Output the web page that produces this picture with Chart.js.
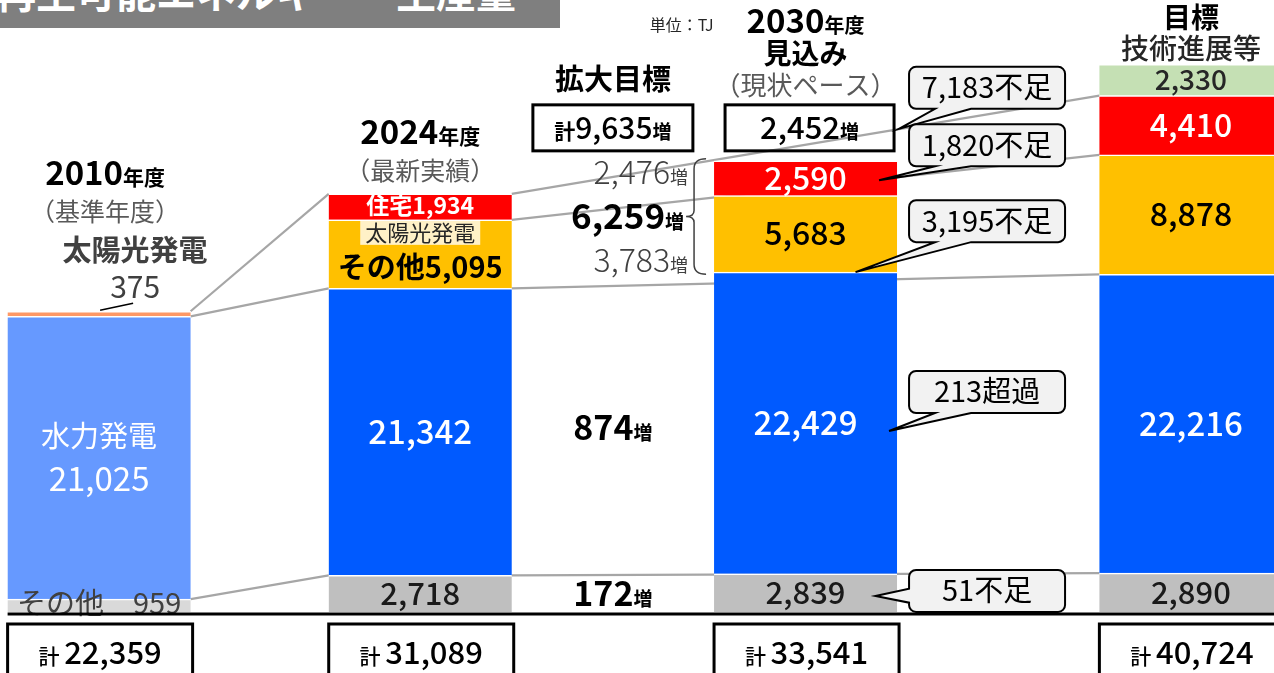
<!DOCTYPE html>
<html>
<head>
<meta charset="utf-8">
<script src="https://cdn.jsdelivr.net/npm/chart.js@4.4.1/dist/chart.umd.min.js"></script>
<style>
  body { margin: 0; background: #fff; overflow: hidden; }
  #wrap { position: relative; width: 1274px; height: 673px; }
  #title { position: absolute; left: 0; top: 0; width: 560px; height: 28px; background: #7f7f7f; overflow: hidden; }
  #title span { position: absolute; left: -4px; top: -29px; font: 700 40px/40px 'Noto Sans CJK JP', sans-serif; color: #fff; white-space: nowrap; }
</style>
</head>
<body>
<div id="wrap">
  <canvas id="chart" width="1274" height="673"></canvas>
  <div id="title"><span>再生可能エネルギー　生産量</span></div>
</div>
<script>
const FONT = "'Noto Sans CJK JP', 'Noto Sans', sans-serif";

// 単位：TJ
const periods = ['2010年度', '2024年度', '2030年度', '目標'];
const otherRE = [959, 2718, 2839, 2890];          // その他
const hydro = [21025, 21342, 22429, 22216];       // 水力発電
const solarOther = [375, 5095, 5683, 8878];       // 太陽光発電 その他 (2010 = 太陽光発電 全体)
const solarHome = [null, 1934, 2590, 4410];       // 太陽光発電 住宅
const techAdvance = [null, null, null, 2330];     // 技術進展等
const totals = [22359, 31089, 33541, 40724];      // 計

// each period sits on one slot of a wide category axis
const SLOTS = 18;
const slotOf = [0, 5, 11, 17];

const fmt = v => v.toLocaleString('en-US');
const labels = Array.from({ length: SLOTS }, (_, i) => slotOf.includes(i) ? periods[slotOf.indexOf(i)] : '');
const spread = arr => Array.from({ length: SLOTS }, (_, i) => slotOf.includes(i) ? arr[slotOf.indexOf(i)] : null);
const isBase = c => c.dataIndex === slotOf[0];

function rich(ctx, x, y, parts, align = 'center') {
  let w = 0;
  const ps = parts.map(([t, size, weight = 400, color = '#000']) => {
    ctx.font = `${weight} ${size}px ${FONT}`;
    const pw = ctx.measureText(t).width;
    w += pw;
    return { t, size, weight, color, pw };
  });
  let px = align === 'right' ? x - w : align === 'left' ? x : x - w / 2;
  const big = Math.max(...ps.map(p => p.size));
  ctx.textAlign = 'left';
  ctx.textBaseline = 'alphabetic';
  ps.forEach(p => {
    ctx.font = `${p.weight} ${p.size}px ${FONT}`;
    ctx.fillStyle = p.color;
    ctx.fillText(p.t, px, y + big * 0.36);
    px += p.pw;
  });
  return w;
}

function geo(chart, i) {
  const ys = chart.scales.y;
  const el = chart.getDatasetMeta(1).data[slotOf[i]];
  let acc = 0;
  const lv = [otherRE[i], hydro[i], solarOther[i], solarHome[i] || 0, techAdvance[i] || 0]
    .map(v => ys.getPixelForValue(acc += v));
  return {
    cx: el.x, l: el.x - el.width / 2, r: el.x + el.width / 2, base: ys.getPixelForValue(0),
    otherTop: lv[0], hydroTop: lv[1], yellowTop: lv[2], redTop: lv[3], top: lv[4]
  };
}

function callout(ctx, x, y, w, h, tx, ty, text) {
  const r = 7;
  ctx.beginPath();
  ctx.moveTo(x + r, y);
  ctx.lineTo(x + w - r, y); ctx.arcTo(x + w, y, x + w, y + r, r);
  ctx.lineTo(x + w, y + h - r); ctx.arcTo(x + w, y + h, x + w - r, y + h, r);
  if (ty > y + h) { ctx.lineTo(x + 62, y + h); ctx.lineTo(tx, ty); ctx.lineTo(x + 26, y + h); }
  ctx.lineTo(x + r, y + h); ctx.arcTo(x, y + h, x, y + h - r, r);
  if (ty <= y + h) { ctx.lineTo(x, y + h * 0.78); ctx.lineTo(tx, ty); ctx.lineTo(x, y + h * 0.45); }
  ctx.lineTo(x, y + r); ctx.arcTo(x, y, x + r, y, r);
  ctx.closePath();
  ctx.fillStyle = '#f2f2f2'; ctx.fill();
  ctx.strokeStyle = '#000'; ctx.lineWidth = 2; ctx.stroke();
  rich(ctx, x + w / 2, y + h / 2, [[text, 29, 400, '#000']]);
}

function box(ctx, x, y, w, h, parts) {
  ctx.strokeStyle = '#000'; ctx.lineWidth = 3;
  ctx.strokeRect(x, y, w, h);
  rich(ctx, x + w / 2, y + h / 2, parts);
}

const overlay = {
  id: 'overlay',
  beforeDatasetsDraw(chart) {
    const ctx = chart.ctx;
    const g = [0, 1, 2, 3].map(i => geo(chart, i));
    ctx.save();
    ctx.strokeStyle = '#a6a6a6'; ctx.lineWidth = 2.2;
    const seg = (a, ya, b, yb) => { ctx.beginPath(); ctx.moveTo(a.r, ya); ctx.lineTo(b.l, yb); ctx.stroke(); };
    seg(g[0], g[0].yellowTop, g[1], g[1].redTop);
    seg(g[0], g[0].hydroTop, g[1], g[1].hydroTop);
    seg(g[0], g[0].otherTop, g[1], g[1].otherTop);
    seg(g[1], g[1].redTop, g[3], g[3].redTop);
    seg(g[1], g[1].yellowTop, g[3], g[3].yellowTop);
    seg(g[1], g[1].hydroTop, g[3], g[3].hydroTop);
    seg(g[1], g[1].otherTop, g[3], g[3].otherTop);
    ctx.restore();
  },
  afterDraw(chart) {
    const ctx = chart.ctx;
    const g = [0, 1, 2, 3].map(i => geo(chart, i));
    const mid = (a, b) => (a + b) / 2;
    const [a, b, c, d] = g;
    ctx.save();

    // 2010年度
    rich(ctx, a.cx + 6, a.top - 138, [['2010', 33, 700], ['年度', 21, 700]]);
    rich(ctx, a.cx + 6, a.top - 99, [['（基準年度）', 25, 400, '#595959']]);
    rich(ctx, a.cx + 36, a.top - 61, [['太陽光発電', 29, 700, '#404040']]);
    rich(ctx, a.cx + 36, a.top - 24, [[fmt(solarOther[0]), 30, 400, '#404040']]);
    ctx.strokeStyle = '#000'; ctx.lineWidth = 1.5;
    ctx.beginPath(); ctx.moveTo(a.cx + 1, a.top - 1); ctx.lineTo(a.cx + 34, a.top - 8); ctx.stroke();
    const ah = mid(a.hydroTop, a.otherTop);
    rich(ctx, a.cx, ah - 21, [['水力発電', 29, 400, '#fff']]);
    rich(ctx, a.cx, ah + 21, [[fmt(hydro[0]), 33, 400, '#fff']]);
    rich(ctx, a.cx, a.otherTop + 4, [['その他　' + fmt(otherRE[0]), 29, 400, '#404040']]);

    // 2024年度
    rich(ctx, b.cx, b.top - 62, [['2024', 33, 700], ['年度', 21, 700]]);
    rich(ctx, b.cx, b.top - 23, [['（最新実績）', 25, 400, '#595959']]);
    rich(ctx, b.cx, mid(b.top, b.yellowTop) - 1, [['住宅' + fmt(solarHome[1]), 23, 700, '#fff']]);
    ctx.font = `400 22px ${FONT}`;
    const sw = ctx.measureText('太陽光発電').width + 10;
    ctx.fillStyle = 'rgba(255,255,255,0.78)';
    ctx.fillRect(b.cx - sw / 2, b.yellowTop + 1, sw, 24);
    rich(ctx, b.cx, b.yellowTop + 13, [['太陽光発電', 22, 400, '#262626']]);
    rich(ctx, b.cx, b.yellowTop + (b.hydroTop - b.yellowTop) * 0.7, [['その他' + fmt(solarOther[1]), 29, 700]]);
    rich(ctx, b.cx, mid(b.hydroTop, b.otherTop), [[fmt(hydro[1]), 33, 500, '#fff']]);
    rich(ctx, b.cx, mid(b.otherTop, b.base), [[fmt(otherRE[1]), 31, 500, '#1a1a1a']]);

    // 2030年度 見込み
    const boxTop = c.top - 56, boxH = 46;
    rich(ctx, c.cx, boxTop - 84, [['2030', 33, 700], ['年度', 20, 700]]);
    rich(ctx, c.cx - 92, boxTop - 80, [['単位：TJ', 16, 400, '#262626']], 'right');
    rich(ctx, c.cx, boxTop - 51, [['見込み', 28, 700]]);
    rich(ctx, c.cx, boxTop - 19, [['（現状ペース）', 26, 400, '#595959']]);
    box(ctx, c.l + 11, boxTop, c.r - c.l - 14, boxH, [[fmt(totals[2] - totals[1]), 31, 500], ['増', 19, 700]]);
    rich(ctx, c.cx, mid(c.yellowTop, c.redTop), [[fmt(solarHome[2]), 32, 500, '#fff']]);
    rich(ctx, c.cx, mid(c.hydroTop, c.yellowTop), [[fmt(solarOther[2]), 32, 500]]);
    rich(ctx, c.cx, mid(c.otherTop, c.hydroTop), [[fmt(hydro[2]), 33, 500, '#fff']]);
    rich(ctx, c.cx, mid(c.base, c.otherTop), [[fmt(otherRE[2]), 31, 500, '#1a1a1a']]);

    // brace beside 2030 solar
    const bx = c.l - 20, bt = c.top - 2, bb = c.hydroTop + 2, bm = mid(bt, bb);
    ctx.strokeStyle = '#404040'; ctx.lineWidth = 1.5;
    ctx.beginPath();
    ctx.moveTo(bx + 12, bt); ctx.quadraticCurveTo(bx, bt, bx, bt + 10);
    ctx.lineTo(bx, bm - 6); ctx.quadraticCurveTo(bx, bm, bx - 8, bm);
    ctx.quadraticCurveTo(bx, bm, bx, bm + 6);
    ctx.lineTo(bx, bb - 10); ctx.quadraticCurveTo(bx, bb, bx + 12, bb);
    ctx.stroke();

    // 拡大目標 column
    const mx = mid(b.r, c.l);
    rich(ctx, mx, boxTop - 25, [['拡大目標', 29, 700]]);
    box(ctx, mx - 80, boxTop, 160, boxH, [['計', 21, 700], [fmt(totals[3] - totals[1]), 30, 500], ['増', 19, 700]]);
    rich(ctx, bx - 6, bm - 44, [[fmt(solarHome[3] - solarHome[1]), 32, 300, '#404040'], ['増', 18, 400, '#404040']], 'right');
    rich(ctx, bx - 10, bm, [[fmt(solarHome[3] + solarOther[3] - solarHome[1] - solarOther[1]), 35, 700], ['増', 19, 700]], 'right');
    rich(ctx, bx - 6, bm + 44, [[fmt(solarOther[3] - solarOther[1]), 32, 300, '#404040'], ['増', 18, 400, '#404040']], 'right');
    rich(ctx, mx, mid(mid(b.hydroTop, b.otherTop), mid(c.hydroTop, c.otherTop)), [[fmt(hydro[3] - hydro[1]), 34, 700], ['増', 19, 700]]);
    rich(ctx, mx, mid(b.otherTop, b.base), [[fmt(otherRE[3] - otherRE[1]), 34, 700], ['増', 19, 700]]);

    // 目標
    rich(ctx, d.cx, d.top - 46, [['目標', 28, 700]]);
    rich(ctx, d.cx, d.top - 15, [['技術進展等', 28, 500, '#262626']]);
    rich(ctx, d.cx, mid(d.top, d.redTop), [[fmt(techAdvance[3]), 28, 500, '#262626']]);
    rich(ctx, d.cx, mid(d.redTop, d.yellowTop), [[fmt(solarHome[3]), 32, 500, '#fff']]);
    rich(ctx, d.cx, mid(d.yellowTop, d.hydroTop), [[fmt(solarOther[3]), 32, 500]]);
    rich(ctx, d.cx, mid(d.hydroTop, d.otherTop), [[fmt(hydro[3]), 33, 500, '#fff']]);
    rich(ctx, d.cx, mid(d.otherTop, d.base), [[fmt(otherRE[3]), 31, 500, '#1a1a1a']]);

    // callouts: 2030 vs 目標
    const kx = c.r + 12, kw = 156, kh = 42;
    callout(ctx, kx, boxTop - 38, kw, kh, c.r + 2, boxTop + 24, fmt(totals[3] - totals[2]) + '不足');
    const redMid = mid(c.top, c.yellowTop);
    callout(ctx, kx, redMid - 54, kw, kh, c.r - 18, redMid + 2, fmt(solarHome[3] - solarHome[2]) + '不足');
    callout(ctx, kx, c.hydroTop - 72, kw, kh, c.cx + 50, c.hydroTop, fmt(solarOther[3] - solarOther[2]) + '不足');
    const blueMid = mid(c.hydroTop, c.otherTop);
    callout(ctx, kx, blueMid - 52, kw, kh, c.r - 8, blueMid + 8, fmt(hydro[2] - hydro[3]) + '超過');
    const grayMid = mid(c.otherTop, c.base);
    callout(ctx, kx, grayMid - 23, kw, kh, c.cx + 70, grayMid + 3, fmt(otherRE[3] - otherRE[2]) + '不足');

    // baseline and totals
    ctx.strokeStyle = '#000'; ctx.lineWidth = 3;
    ctx.beginPath(); ctx.moveTo(a.l, a.base + 2); ctx.lineTo(1274, a.base + 2); ctx.stroke();
    g.forEach((p, i) => box(ctx, p.l, 624, p.r - p.l + 2, 58, [['計 ', 21, 500], [fmt(totals[i]), 31, 500]]));
    ctx.restore();
  }
};

const common = {
  barThickness: 183,
  borderColor: '#fff',
  borderWidth: { top: 1.5, right: 0, bottom: 0, left: 0 },
  borderSkipped: false,
  clip: false
};

new Chart(document.getElementById('chart').getContext('2d'), {
  type: 'bar',
  data: {
    labels,
    datasets: [
      { ...common, label: 'その他', data: spread(otherRE), backgroundColor: c => isBase(c) ? '#d9d9d9' : '#bfbfbf' },
      { ...common, label: '水力発電', data: spread(hydro), backgroundColor: c => isBase(c) ? '#6699ff' : '#005aff' },
      { ...common, label: '太陽光発電 その他', data: spread(solarOther), backgroundColor: c => isBase(c) ? '#ff9966' : '#ffc000' },
      { ...common, label: '太陽光発電 住宅', data: spread(solarHome), backgroundColor: '#ff0000' },
      { ...common, label: '技術進展等', data: spread(techAdvance), backgroundColor: '#c5e0b4' }
    ]
  },
  options: {
    responsive: false,
    animation: false,
    layout: { padding: { left: 67, right: 51, top: 0, bottom: 61 } },
    plugins: { legend: { display: false }, tooltip: { enabled: false } },
    scales: {
      x: { stacked: true, display: false, offset: true },
      y: { stacked: true, display: false, min: 0, max: 45500 }
    }
  },
  plugins: [overlay]
});
</script>
</body>
</html>
